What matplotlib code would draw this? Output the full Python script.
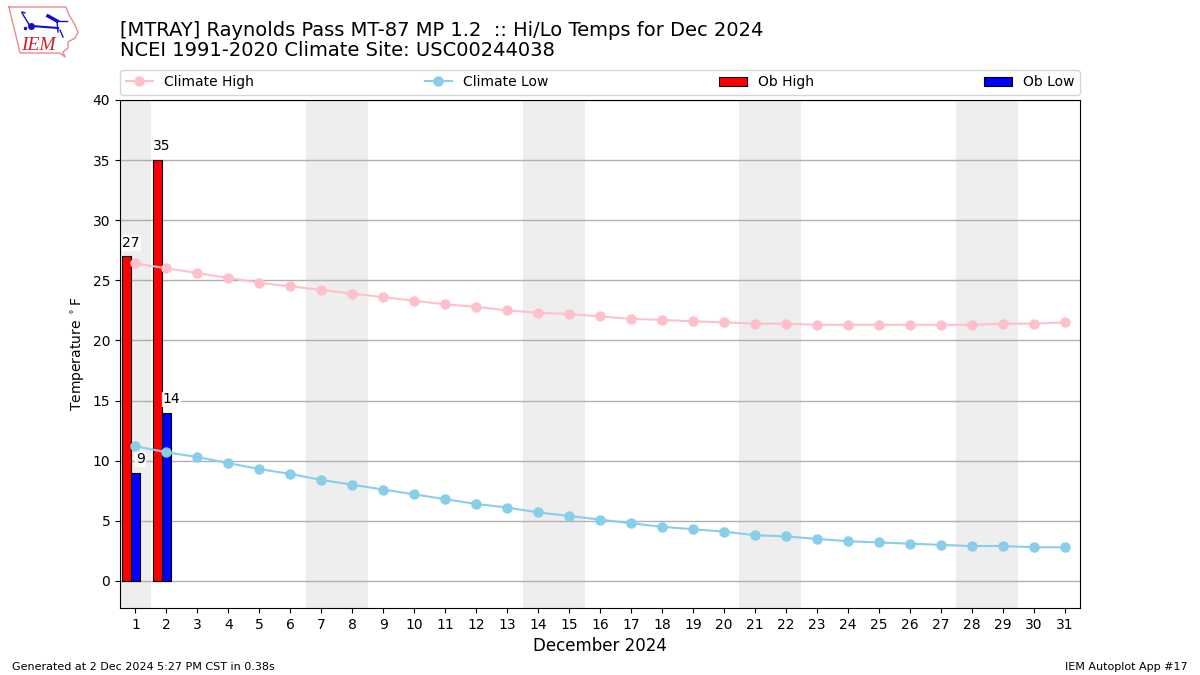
import matplotlib
matplotlib.use('Agg')
import matplotlib.pyplot as plt

days = list(range(1, 32))
climate_high = [26.4, 26.0, 25.6, 25.2, 24.8, 24.5, 24.2, 23.9, 23.6, 23.3, 23.0,
                22.8, 22.5, 22.3, 22.2, 22.0, 21.8, 21.7, 21.6, 21.5, 21.4, 21.4,
                21.3, 21.3, 21.3, 21.3, 21.3, 21.3, 21.4, 21.4, 21.5]
climate_low = [11.2, 10.7, 10.3, 9.8, 9.3, 8.9, 8.4, 8.0, 7.6, 7.2, 6.8,
               6.4, 6.1, 5.7, 5.4, 5.1, 4.8, 4.5, 4.3, 4.1, 3.8, 3.7,
               3.5, 3.3, 3.2, 3.1, 3.0, 2.9, 2.9, 2.8, 2.8]
ob_days = [1, 2]
ob_high = [27, 35]
ob_low = [9, 14]
weekends = [(0.5, 1.5), (6.5, 8.5), (13.5, 15.5), (20.5, 22.5), (27.5, 29.5)]

# logo shapes, in figure pixels
iowa_x = [9, 66, 68, 75, 78, 75, 68, 68, 63, 65, 60, 20, 17, 12, 9]
iowa_y = [7, 7, 13, 25, 32, 38, 42, 48, 52, 57, 53, 53, 40, 20, 7]
logo_lines = [
    ([32, 58], [26, 28], 1.5),
    ([22, 30], [13, 26], 1.0),
    ([22, 25], [12, 13], 1.0),
    ([48, 57], [16, 21], 2.5),
    ([57, 67], [21, 21], 1.0),
    ([57, 58], [21, 32], 1.0),
    ([60, 63], [30, 37], 1.0),
]

fig = plt.figure(figsize=(12, 6.75), dpi=100)
ax = fig.add_axes([0.1, 0.0993, 0.8, 0.7526])

for start, end in weekends:
    ax.axvspan(start, end, color='#EEEEEE', zorder=0, lw=0)

ax.grid(axis='y', color='#b0b0b0', lw=1, zorder=1)
ax.set_axisbelow(True)

ax.plot(days, climate_high, color='pink', marker='o', ms=6.5, lw=1.5, label='Climate High', zorder=4)
ax.plot(days, climate_low, color='skyblue', marker='o', ms=6.5, lw=1.5, label='Climate Low', zorder=4)

high_x = [d - 0.3 for d in ob_days]
ax.bar(high_x, ob_high, width=0.3, color='r', edgecolor='k', lw=0.8, label='Ob High', zorder=3)
ax.bar(ob_days, ob_low, width=0.3, color='b', edgecolor='k', lw=0.8, label='Ob Low', zorder=3)

# labels sit centered over the right edge of each bar
for x, val in zip(high_x + ob_days, ob_high + ob_low):
    ax.text(x + 0.15, val + 0.55, str(val), ha='center', va='bottom', fontsize=10,
            bbox=dict(color='white', pad=0.2, alpha=0.8), zorder=5)

ax.set_xlim(0.5, 31.5)
ax.set_ylim(-2.25, 40)
ax.set_xticks(days)
ax.set_xlabel('December 2024', fontsize=12)
ax.set_ylabel(r'Temperature $^\circ$F')

handles, labels = ax.get_legend_handles_labels()
ax.legend(handles, labels, ncol=4, mode='expand', loc='lower left', fontsize=10,
          bbox_to_anchor=(0, 1.01, 1, 0.05), borderaxespad=0)

fig.text(0.1, 0.911, '[MTRAY] Raynolds Pass MT-87 MP 1.2  :: Hi/Lo Temps for Dec 2024\n'
         'NCEI 1991-2020 Climate Site: USC00244038', fontsize=14, va='bottom', linespacing=1.1)
fig.text(0.01, 0.007, 'Generated at 2 Dec 2024 5:27 PM CST in 0.38s', fontsize=8)
fig.text(0.99, 0.007, 'IEM Autoplot App #17', fontsize=8, ha='right')

# logo
logo = fig.add_axes([0, 0.912, 0.065, 0.088])
logo.set_xlim(0, 78)
logo.set_ylim(59.4, 0)
logo.axis('off')
logo.plot(iowa_x, iowa_y, color='#e88a90', lw=1, clip_on=False)
for xs, ys, width in logo_lines:
    logo.plot(xs, ys, color='#1010d0', lw=width)
logo.plot([31], [26], marker='o', ms=4, color='#1010d0')
logo.plot([25], [28], marker='.', ms=3, color='#1010d0')
logo.text(21, 45, 'IEM', color='#cc2030', fontsize=14, family='Liberation Serif', style='italic',
          ha='left', va='center')

fig.savefig('out.png', dpi=100)
